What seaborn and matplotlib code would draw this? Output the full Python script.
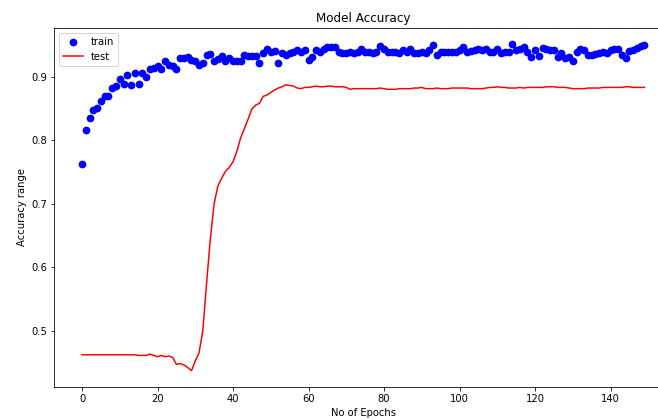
import numpy as np
import pandas as pd
import seaborn as sns
import matplotlib.pyplot as plt

# accuracy per epoch
train_acc = [
    0.762, 0.816, 0.835, 0.848, 0.850, 0.861, 0.869, 0.870, 0.882, 0.885,
    0.897, 0.888, 0.903, 0.887, 0.905, 0.889, 0.905, 0.900, 0.912, 0.913,
    0.916, 0.912, 0.924, 0.919, 0.917, 0.912, 0.930, 0.929, 0.931, 0.926,
    0.924, 0.919, 0.921, 0.934, 0.936, 0.925, 0.927, 0.933, 0.925, 0.930,
    0.924, 0.924, 0.924, 0.934, 0.933, 0.933, 0.933, 0.922, 0.937, 0.943,
    0.939, 0.941, 0.922, 0.937, 0.934, 0.937, 0.939, 0.942, 0.939, 0.942,
    0.926, 0.931, 0.942, 0.939, 0.943, 0.946, 0.946, 0.946, 0.938, 0.937,
    0.937, 0.939, 0.937, 0.939, 0.944, 0.939, 0.938, 0.937, 0.939, 0.948,
    0.943, 0.939, 0.939, 0.939, 0.937, 0.942, 0.939, 0.944, 0.937, 0.937,
    0.939, 0.937, 0.942, 0.949, 0.934, 0.938, 0.939, 0.939, 0.939, 0.939,
    0.942, 0.947, 0.939, 0.940, 0.942, 0.944, 0.942, 0.944, 0.939, 0.939,
    0.943, 0.937, 0.939, 0.939, 0.951, 0.942, 0.944, 0.946, 0.939, 0.931,
    0.942, 0.932, 0.945, 0.944, 0.942, 0.942, 0.931, 0.937, 0.929, 0.931,
    0.925, 0.939, 0.943, 0.942, 0.934, 0.934, 0.935, 0.937, 0.939, 0.937,
    0.942, 0.943, 0.944, 0.934, 0.929, 0.941, 0.942, 0.945, 0.948, 0.950,
]

test_acc = [
    0.462, 0.462, 0.462, 0.462, 0.462, 0.462, 0.462, 0.462, 0.462, 0.462,
    0.462, 0.462, 0.462, 0.462, 0.462, 0.461, 0.461, 0.461, 0.463, 0.461,
    0.459, 0.461, 0.459, 0.460, 0.458, 0.447, 0.448, 0.446, 0.442, 0.437,
    0.452, 0.465, 0.500, 0.575, 0.645, 0.700, 0.728, 0.740, 0.751, 0.757,
    0.766, 0.782, 0.803, 0.818, 0.833, 0.849, 0.855, 0.858, 0.869, 0.871,
    0.875, 0.879, 0.882, 0.884, 0.887, 0.886, 0.885, 0.882, 0.881, 0.883,
    0.883, 0.884, 0.885, 0.884, 0.884, 0.885, 0.885, 0.884, 0.884, 0.884,
    0.883, 0.880, 0.881, 0.881, 0.881, 0.881, 0.881, 0.881, 0.881, 0.882,
    0.881, 0.880, 0.880, 0.880, 0.881, 0.881, 0.881, 0.881, 0.882, 0.882,
    0.883, 0.881, 0.881, 0.881, 0.882, 0.881, 0.881, 0.881, 0.882, 0.882,
    0.882, 0.882, 0.882, 0.881, 0.881, 0.881, 0.881, 0.882, 0.883, 0.883,
    0.884, 0.883, 0.883, 0.882, 0.882, 0.882, 0.883, 0.882, 0.883, 0.883,
    0.883, 0.883, 0.883, 0.884, 0.884, 0.884, 0.883, 0.883, 0.883, 0.882,
    0.881, 0.881, 0.881, 0.881, 0.882, 0.882, 0.882, 0.882, 0.883, 0.883,
    0.883, 0.883, 0.883, 0.883, 0.884, 0.884, 0.883, 0.883, 0.883, 0.883,
]

epochs = np.arange(len(train_acc))
df = pd.DataFrame({"epoch": epochs, "train": train_acc, "test": test_acc})

# jupyter-like look: 72 dpi, plain white axes
plt.rcParams.update({"figure.dpi": 72, "savefig.dpi": 72})
fig = plt.figure(figsize=(658 / 72, 420 / 72))
# the reference is cropped on the right, so the axes run past the canvas
ax = fig.add_axes([0.0819, 0.0786, 0.9403, 0.855])

sns.scatterplot(data=df, x="epoch", y="train", color="blue", s=60,
                linewidth=0, label="train", ax=ax)
sns.lineplot(data=df, x="epoch", y="test", color="red", linewidth=1.5,
             label="test", ax=ax)

ax.set_title("Model Accuracy")
ax.set_xlabel("No of Epochs")
ax.set_ylabel("Accuracy range")
ax.set_xticks([0, 20, 40, 60, 80, 100, 120, 140])
ax.set_yticks([0.5, 0.6, 0.7, 0.8, 0.9])
ax.legend(loc="upper left")

fig.savefig("out.png")
